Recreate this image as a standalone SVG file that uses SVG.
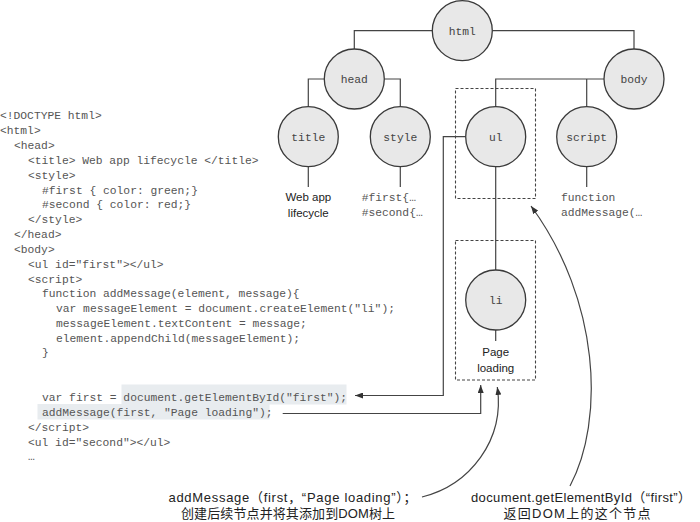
<svg xmlns="http://www.w3.org/2000/svg" width="700" height="522" viewBox="0 0 700 522">
<defs>
<marker id="arr" viewBox="0 0 8 6" refX="8" refY="3" markerWidth="8" markerHeight="6" markerUnits="userSpaceOnUse" orient="auto">
<path d="M0,0 L8,3 L0,6 z" fill="#333"/>
</marker>
<style>
.code{font-family:"Liberation Mono",monospace;font-size:11.3px;fill:#555}
.node circle{fill:#e8e8e8;stroke:#3a3a3a;stroke-width:1.3}
.lbl{font-family:"Liberation Mono",monospace;font-size:11.3px;fill:#444;text-anchor:middle}
.sans{font-family:"Liberation Sans",Arial,sans-serif;font-size:11.5px;fill:#222;text-anchor:middle}
.cap{font-family:"Liberation Sans","Noto Sans CJK SC",sans-serif;font-size:13px;fill:#222;text-anchor:middle}
.edge{fill:none;stroke:#444;stroke-width:1.2}
.dash{fill:none;stroke:#444;stroke-width:1.1;stroke-dasharray:3 2}
.hl{fill:#e8ecef}
</style>
</defs>
<rect width="700" height="522" fill="#fff"/>

<g id="highlights">
<rect class="hl" x="121.5" y="384.5" width="225" height="20"/>
<rect class="hl" x="37.5" y="404" width="232" height="15.5"/>
</g>

<g id="code">
<text class="code" x="0" y="119">&lt;!DOCTYPE html&gt;</text>
<text class="code" x="0" y="134">&lt;html&gt;</text>
<text class="code" x="14" y="149">&lt;head&gt;</text>
<text class="code" x="28" y="164">&lt;title&gt; Web app lifecycle &lt;/title&gt;</text>
<text class="code" x="28" y="179">&lt;style&gt;</text>
<text class="code" x="42" y="193.5">#first { color: green;}</text>
<text class="code" x="42" y="208">#second { color: red;}</text>
<text class="code" x="28" y="223">&lt;/style&gt;</text>
<text class="code" x="14" y="238">&lt;/head&gt;</text>
<text class="code" x="14" y="252.5">&lt;body&gt;</text>
<text class="code" x="28" y="267.5">&lt;ul id="first"&gt;&lt;/ul&gt;</text>
<text class="code" x="28" y="282.5">&lt;script&gt;</text>
<text class="code" x="42" y="297">function addMessage(element, message){</text>
<text class="code" x="56" y="312">var messageElement = document.createElement("li");</text>
<text class="code" x="56" y="326.5">messageElement.textContent = message;</text>
<text class="code" x="56" y="341.5">element.appendChild(messageElement);</text>
<text class="code" x="42" y="356">}</text>
<text class="code" x="42" y="401">var first = document.getElementById("first");</text>
<text class="code" x="42" y="415.5">addMessage(first, "Page loading");</text>
<text class="code" x="28" y="430.5">&lt;/script&gt;</text>
<text class="code" x="28" y="445.5">&lt;ul id="second"&gt;&lt;/ul&gt;</text>
<text class="code" x="28" y="460">…</text>
</g>

<g id="connectors">
<path class="edge" d="M432.3 30.7 H354.3 V49"/>
<path class="edge" d="M492.3 30.7 H634 V49"/>
<path class="edge" d="M324.3 79 H308.3 V106.7"/>
<path class="edge" d="M384.3 79 H400.3 V106.7"/>
<path class="edge" d="M604 79 H495.7 V106.7"/>
<path class="edge" d="M586.7 79 V106.7"/>
<path class="edge" d="M495.7 166.7 V270"/>
<path class="edge" d="M308.3 166.7 V187"/>
<path class="edge" d="M400.3 166.7 V187"/>
<path class="edge" d="M586.7 166.7 V187"/>
<path class="edge" d="M495.7 330 V341"/>
<path class="edge" d="M465.7 136.7 H443.3 V395.5 H355" marker-end="url(#arr)"/>
<path class="edge" d="M282.7 413.5 H480.7 V385" marker-end="url(#arr)"/>
<path class="edge" d="M422 497 C470 485 505 440 497.3 387" stroke-width="1" marker-end="url(#arr)"/>
<path class="edge" d="M570 486 C605 420 600 300 531 206" stroke-width="1" marker-end="url(#arr)"/>
<rect class="dash" x="455.5" y="88.5" width="80" height="110"/>
<rect class="dash" x="455.5" y="240.5" width="80" height="139.5"/>
</g>

<g id="node-html" class="node"><circle cx="462.3" cy="30.7" r="30"/><text class="lbl" x="462.3" y="34.7">html</text></g>
<g id="node-head" class="node"><circle cx="354.3" cy="79" r="30"/><text class="lbl" x="354.3" y="83">head</text></g>
<g id="node-body" class="node"><circle cx="634" cy="79" r="30"/><text class="lbl" x="634" y="83">body</text></g>
<g id="node-title" class="node"><circle cx="308.3" cy="136.7" r="30"/><text class="lbl" x="308.3" y="140.7">title</text>
<text class="sans" x="308.3" y="200.7">Web app</text><text class="sans" x="308.3" y="216.5">lifecycle</text></g>
<g id="node-style" class="node"><circle cx="400.3" cy="136.7" r="30"/><text class="lbl" x="400.3" y="140.7">style</text>
<text class="code" x="361.7" y="200.7">#first{…</text><text class="code" x="361.7" y="216">#second{…</text></g>
<g id="node-ul" class="node"><circle cx="495.7" cy="136.7" r="30"/><text class="lbl" x="495.7" y="140.7">ul</text></g>
<g id="node-script" class="node"><circle cx="586.7" cy="136.7" r="30"/><text class="lbl" x="586.7" y="140.7">script</text>
<text class="code" x="561" y="200.7">function</text><text class="code" x="561" y="216">addMessage(…</text></g>
<g id="node-li" class="node"><circle cx="495.7" cy="300" r="30"/><text class="lbl" x="495.7" y="304">li</text>
<text class="sans" x="495.7" y="355.5">Page</text><text class="sans" x="495.7" y="371.5">loading</text></g>

<g id="captions">
<text class="cap" x="292.5" y="501.5" textLength="248" lengthAdjust="spacing">addMessage（first，“Page loading”）；</text>
<text class="cap" x="288" y="518" textLength="214" lengthAdjust="spacing">创建后续节点并将其添加到DOM树上</text>
<text class="cap" x="581" y="501.5" textLength="220" lengthAdjust="spacing">document.getElementById（“first”）</text>
<text class="cap" x="577" y="518" textLength="147" lengthAdjust="spacing">返回DOM上的这个节点</text>
</g>
</svg>
